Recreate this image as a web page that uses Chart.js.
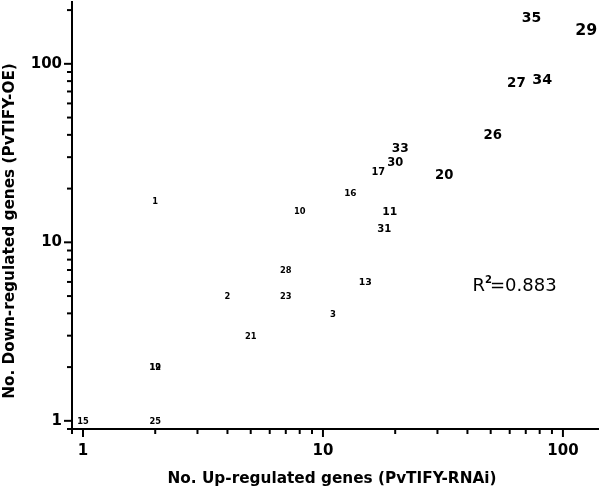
<!DOCTYPE html>
<html>
<head>
<meta charset="utf-8">
<script src="https://cdn.jsdelivr.net/npm/chart.js@4.4.1/dist/chart.umd.min.js"></script>
<style>
  body { margin: 0; background: #fff; }
  #wrap { width: 600px; height: 489px; }
</style>
</head>
<body>
<div id="wrap"><canvas id="chart"></canvas></div>
<script>
'use strict'

// gene ids and their counts of up / down regulated genes
const geneIds    = ['1', '2', '3', '10', '11', '12', '13', '15', '16', '17', '19', '20', '21', '23', '25', '26', '27', '28', '29', '30', '31', '33', '34', '35'];
const upCounts   = [2, 4, 11, 8, 19, 2, 15, 1, 13, 17, 2, 32, 5, 7, 2, 51, 64, 7, 125, 20, 18, 21, 82, 74];
const downCounts = [17, 5, 4, 15, 15, 2, 6, 1, 19, 25, 2, 24, 3, 5, 1, 40, 79, 7, 155, 28, 12, 34, 82, 183];
const majorTicks = [1, 10, 100];
const rSquared = '0.883';

const FONT = '"DejaVu Sans", Arial, sans-serif';

// label font size grows with log10 of the x value, as in the original figure
const sizeKnots = [[0, 8.3], [1.0, 8.3], [1.11, 8.9], [1.25, 9.9], [1.33, 12.4], [1.5, 13.2], [1.8, 13.4], [2.1, 15.8], [3, 15.8]];
function labelSize(x) {
  const l = Math.log10(x);
  for (let i = 1; i < sizeKnots.length; i++) {
    const [l0, s0] = sizeKnots[i - 1], [l1, s1] = sizeKnots[i];
    if (l <= l1) return s0 + (s1 - s0) * (l - l0) / (l1 - l0);
  }
  return sizeKnots[sizeKnots.length - 1][1];
}

const labelPlugin = {
  id: 'geneLabels',
  afterDatasetsDraw(chart) {
    const c = chart.ctx;
    const meta = chart.getDatasetMeta(0);
    c.save();
    c.fillStyle = '#000';
    c.textAlign = 'center';
    c.textBaseline = 'middle';
    meta.data.forEach((pt, i) => {
      c.font = 'bold ' + labelSize(upCounts[i]).toFixed(1) + 'px ' + FONT;
      c.fillText(geneIds[i], pt.x, pt.y + 1);
    });
    c.restore();
  }
};

const axesPlugin = {
  id: 'axesExtras',
  afterDraw(chart) {
    const c = chart.ctx;
    const xs = chart.scales.x, ys = chart.scales.y;
    const area = chart.chartArea;
    c.save();
    c.strokeStyle = '#000';
    c.lineWidth = 2;
    // minor and major ticks
    for (let k = -1; k <= 3; k++) {
      for (let m = 1; m <= 9; m++) {
        const v = m * Math.pow(10, k);
        const len = m === 1 ? 8 : 5;
        if (v >= xs.min && v <= xs.max) {
          const px = xs.getPixelForValue(v);
          c.beginPath(); c.moveTo(px, area.bottom); c.lineTo(px, area.bottom + len); c.stroke();
        }
        if (v >= ys.min && v <= ys.max) {
          const py = ys.getPixelForValue(v);
          c.beginPath(); c.moveTo(area.left, py); c.lineTo(area.left - len, py); c.stroke();
        }
      }
    }
    // axis titles
    c.fillStyle = '#000';
    c.font = 'bold 15.3px ' + FONT;
    c.textAlign = 'center';
    c.textBaseline = 'alphabetic';
    c.fillText('No. Up-regulated genes (PvTIFY-RNAi)', (area.left + area.right) / 2 - 3, 483);
    c.save();
    c.translate(14, 231);
    c.rotate(-Math.PI / 2);
    c.fillText('No. Down-regulated genes (PvTIFY-OE)', 0, 0);
    c.restore();
    // R squared note
    const rx = xs.getPixelForValue(42), ry = ys.getPixelForValue(5.35);
    c.textAlign = 'left';
    c.font = '18px ' + FONT;
    c.fillText('R', rx, ry);
    const w = c.measureText('R').width;
    c.font = 'bold 10px ' + FONT;
    c.fillText('2', rx + w, ry - 8);
    c.font = '18px ' + FONT;
    c.fillText('=' + rSquared, rx + w + 5, ry);
    c.restore();
  }
};

const ctx = document.getElementById('chart');
new Chart(ctx, {
  type: 'scatter',
  data: {
    datasets: [{
      data: upCounts.map((x, i) => ({ x: x, y: downCounts[i] })),
      pointRadius: 0,
      pointHoverRadius: 0
    }]
  },
  options: {
    responsive: true,
    maintainAspectRatio: false,
    animation: false,
    layout: { padding: { top: 2, right: 2, left: 0, bottom: 0 } },
    scales: {
      x: {
        type: 'logarithmic',
        min: 0.9,
        max: 140,
        afterFit: s => { s.height = 60; s.paddingLeft = 0; s.paddingRight = 0; },
        grid: { display: false, drawTicks: false },
        border: { display: true, color: '#000', width: 2 },
        ticks: {
          autoSkip: false,
          maxRotation: 0,
          padding: 13,
          color: '#000',
          font: { family: FONT, size: 15, weight: 'bold' },
          callback: v => majorTicks.includes(v) ? String(v) : ''
        }
      },
      y: {
        type: 'logarithmic',
        min: 0.9,
        max: 222,
        afterFit: s => { s.width = 72; s.paddingTop = 0; s.paddingBottom = 0; },
        grid: { display: false, drawTicks: false },
        border: { display: true, color: '#000', width: 2 },
        ticks: {
          autoSkip: false,
          padding: 10,
          color: '#000',
          font: { family: FONT, size: 15, weight: 'bold' },
          callback: v => majorTicks.includes(v) ? String(v) : ''
        }
      }
    },
    plugins: {
      legend: { display: false },
      tooltip: { enabled: false }
    }
  },
  plugins: [labelPlugin, axesPlugin]
});
</script>
</body>
</html>
